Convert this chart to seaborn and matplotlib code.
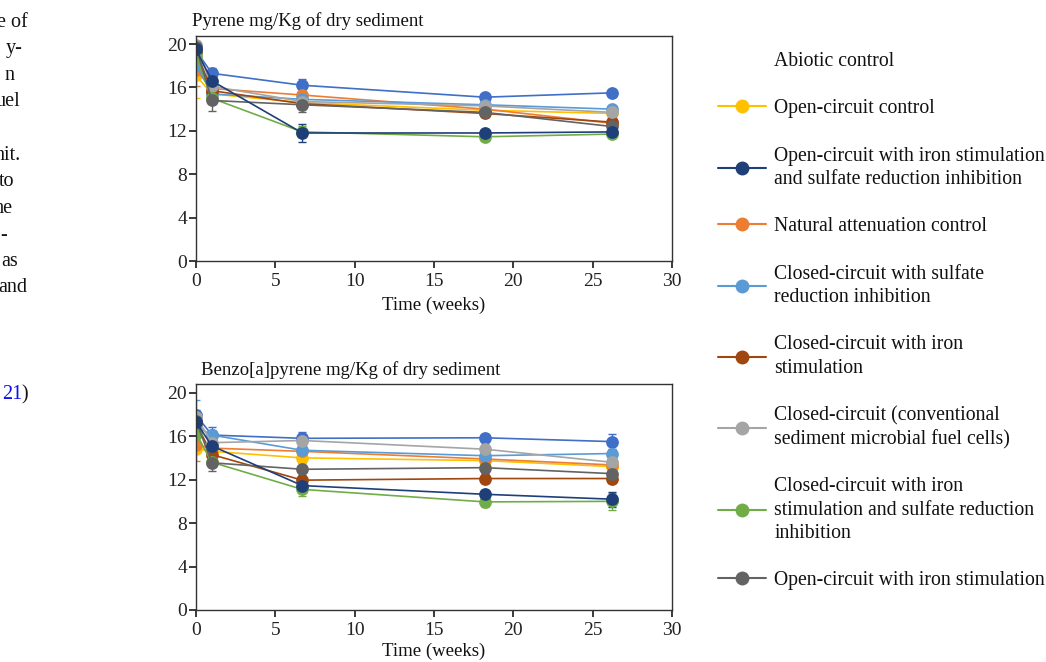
import matplotlib
matplotlib.use("Agg")
import matplotlib.pyplot as plt
from matplotlib.lines import Line2D
import seaborn as sns
import pandas as pd

# ---------------- data ----------------
weeks = [0, 1, 6.7, 18.2, 26.2]

series_names = [
    "Abiotic control",
    "Open-circuit control",
    "Open-circuit with iron stimulation\nand sulfate reduction inhibition",
    "Natural attenuation control",
    "Closed-circuit with sulfate\nreduction inhibition",
    "Closed-circuit with iron\nstimulation",
    "Closed-circuit (conventional\nsediment microbial fuel cells)",
    "Closed-circuit with iron\nstimulation and sulfate reduction\ninhibition",
    "Open-circuit with iron stimulation",
]
series_colors = ["#3F6FC6", "#FFC000", "#1F3F78", "#ED7D31", "#5B9BD5",
                 "#A0460F", "#A5A5A5", "#70AD47", "#636363"]

# Pyrene (mg/Kg dry sediment)
pyr_abiotic = [19.4, 17.3, 16.2, 15.1, 15.5]
pyr_open_ctrl = [17.1, 15.4, 14.6, 13.9, 13.6]
pyr_open_fe_sri = [19.5, 16.6, 11.8, 11.8, 11.9]
pyr_natural = [17.6, 15.9, 15.3, 14.0, 12.7]
pyr_closed_sri = [18.1, 15.4, 14.9, 14.4, 14.0]
pyr_closed_fe = [19.3, 15.7, 14.5, 13.6, 12.8]
pyr_closed_conv = [19.9, 16.1, 14.7, 14.3, 13.7]
pyr_closed_fe_sri = [18.9, 15.0, 11.9, 11.45, 11.7]
pyr_open_fe = [19.7, 14.8, 14.4, 13.7, 12.4]

pyr_err_abiotic = [0.3, 0.5, 0.6, 0.3, 0.25]
pyr_err_open_ctrl = [2.1, 0.4, 0.4, 0.3, 0.3]
pyr_err_open_fe_sri = [0.4, 0.6, 0.85, 0.3, 0.3]
pyr_err_natural = [1.5, 0.4, 0.4, 0.3, 0.3]
pyr_err_closed_sri = [0.5, 0.4, 0.4, 0.3, 0.3]
pyr_err_closed_fe = [0.4, 0.4, 0.4, 0.3, 0.3]
pyr_err_closed_conv = [0.4, 0.4, 0.5, 0.3, 0.3]
pyr_err_closed_fe_sri = [0.4, 0.4, 0.5, 0.3, 0.3]
pyr_err_open_fe = [0.4, 1.0, 0.7, 0.35, 0.35]

# Benzo[a]pyrene (mg/Kg dry sediment)
bap_abiotic = [17.95, 16.1, 15.8, 15.85, 15.5]
bap_open_ctrl = [14.85, 14.6, 14.0, 13.75, 13.2]
bap_open_fe_sri = [17.3, 15.1, 11.45, 10.65, 10.2]
bap_natural = [15.2, 14.9, 14.6, 13.9, 13.35]
bap_closed_sri = [16.9, 16.1, 14.7, 14.2, 14.4]
bap_closed_fe = [17.2, 14.3, 11.95, 12.1, 12.1]
bap_closed_conv = [17.8, 15.4, 15.6, 14.8, 13.6]
bap_closed_fe_sri = [16.2, 13.6, 11.1, 9.95, 10.0]
bap_open_fe = [17.4, 13.55, 12.95, 13.1, 12.55]

bap_err_abiotic = [0.5, 0.7, 0.55, 0.35, 0.7]
bap_err_open_ctrl = [0.4, 0.4, 0.4, 0.3, 0.35]
bap_err_open_fe_sri = [0.5, 0.5, 0.6, 0.35, 0.7]
bap_err_natural = [1.5, 0.4, 0.4, 0.3, 0.3]
bap_err_closed_sri = [2.4, 0.5, 0.5, 0.4, 0.4]
bap_err_closed_fe = [0.5, 0.4, 0.45, 0.4, 0.45]
bap_err_closed_conv = [0.6, 0.4, 0.6, 0.5, 0.4]
bap_err_closed_fe_sri = [0.5, 0.4, 0.65, 0.45, 0.8]
bap_err_open_fe = [0.5, 0.8, 0.6, 0.5, 0.5]

pyr_values = [pyr_abiotic, pyr_open_ctrl, pyr_open_fe_sri, pyr_natural, pyr_closed_sri,
              pyr_closed_fe, pyr_closed_conv, pyr_closed_fe_sri, pyr_open_fe]
pyr_errors = [pyr_err_abiotic, pyr_err_open_ctrl, pyr_err_open_fe_sri, pyr_err_natural,
              pyr_err_closed_sri, pyr_err_closed_fe, pyr_err_closed_conv,
              pyr_err_closed_fe_sri, pyr_err_open_fe]
bap_values = [bap_abiotic, bap_open_ctrl, bap_open_fe_sri, bap_natural, bap_closed_sri,
              bap_closed_fe, bap_closed_conv, bap_closed_fe_sri, bap_open_fe]
bap_errors = [bap_err_abiotic, bap_err_open_ctrl, bap_err_open_fe_sri, bap_err_natural,
              bap_err_closed_sri, bap_err_closed_fe, bap_err_closed_conv,
              bap_err_closed_fe_sri, bap_err_open_fe]

titles = ["Pyrene mg/Kg of dry sediment", "Benzo[a]pyrene mg/Kg of dry sediment"]
x_label = "Time (weeks)"
x_ticks = [0, 5, 10, 15, 20, 25, 30]
y_ticks = [0, 4, 8, 12, 16, 20]

side_lines = ["e of", "y-", "n", "uel", "nit.", "to", "he", "-", "as", "and"]

# ---------------- style ----------------
sns.set_theme(style="ticks")
plt.rcParams["font.family"] = ["Liberation Serif", "DejaVu Serif"]
plt.rcParams["axes.edgecolor"] = "#333333"
plt.rcParams["axes.linewidth"] = 1.0

W, H = 1046, 662
fig = plt.figure(figsize=(W / 100, H / 100), dpi=100)
fig.patch.set_facecolor("white")


def fx(px):
    return px / W


def fy(py):
    return 1 - py / H


ax_top = fig.add_axes([fx(196), fy(261), fx(672) - fx(196), fy(36) - fy(261)])
ax_bot = fig.add_axes([fx(196), fy(610), fx(672) - fx(196), fy(384) - fy(610)])

# draw order: navy last so it sits on top
draw_order = [0, 1, 3, 4, 5, 6, 7, 8, 2]
palette = {series_names[i]: series_colors[i] for i in range(len(series_names))}
hue_order = [series_names[i] for i in draw_order]


def draw_panel(ax, values, errors, ylim_top, lpad):
    rows = []
    for name, vals in zip(series_names, values):
        for w, v in zip(weeks, vals):
            rows.append({"week": w, "value": v, "series": name})
    df = pd.DataFrame(rows)
    for i in draw_order:
        ax.errorbar(weeks, values[i], yerr=errors[i], fmt="none",
                    ecolor=series_colors[i], elinewidth=1.0, capsize=3,
                    capthick=1.0, zorder=1.5)
    sns.lineplot(data=df, x="week", y="value", hue="series", hue_order=hue_order,
                 palette=palette, marker="o", markersize=9.2, markeredgewidth=0,
                 linewidth=1.2, errorbar=None, legend=False, ax=ax, zorder=2,
                 sort=True)
    ax.set_xlim(0, 30)
    ax.set_ylim(0, ylim_top)
    ax.set_xticks(x_ticks)
    ax.set_yticks(y_ticks)
    ax.set_xlabel(x_label, fontsize=13.5, labelpad=lpad, color="#111111")
    ax.set_ylabel("")
    ax.tick_params(axis="both", labelsize=14, colors="#222222", direction="out")
    ax.tick_params(axis="y", length=5, pad=1.5)
    ax.tick_params(axis="x", length=5, pad=3.5)
    for s in ax.spines.values():
        s.set_visible(True)
        s.set_color("#333333")
        s.set_linewidth(1.0)
    ax.set_facecolor("white")


draw_panel(ax_top, pyr_values, pyr_errors, 20.74, 5)
draw_panel(ax_bot, bap_values, bap_errors, 20.8, 2.5)

fig.text(fx(192), fy(26), titles[0], fontsize=13.5, ha="left", va="baseline",
         color="#111111")
fig.text(fx(201), fy(375), titles[1], fontsize=13.5, ha="left", va="baseline",
         color="#111111")

# legend
handles = [Line2D([0], [0], color="none", marker=None)]
for c in series_colors[1:]:
    handles.append(Line2D([0], [0], color=c, marker="o", markersize=10,
                          markeredgewidth=0, linewidth=1.5))
leg = fig.legend(handles, series_names, loc="upper left",
                 bbox_to_anchor=(fx(718), fy(52)), frameon=False, borderpad=0,
                 borderaxespad=0, handlelength=2.45, handletextpad=0.4,
                 labelspacing=1.44, prop={"family": "Liberation Serif", "size": 14.2},
                 labelcolor="#111111")
for t in leg.get_texts():
    t.set_linespacing(1.3)

# cut-off page text at the left edge
side_right = [27.5, 23, 14, 20, 21, 14, 13, 7, 18, 27]
side_base = [27, 53.5, 80, 106.5, 160, 186.5, 213, 239.5, 266, 292.5]
for s, xr, yb in zip(side_lines, side_right, side_base):
    fig.text(fx(xr), fy(yb), s, fontsize=14.5, ha="right", va="baseline",
             color="#111111")
fig.text(fx(28.5), fy(399), ")", fontsize=14.5, ha="right", va="baseline",
         color="#111111")
fig.text(fx(22), fy(399), "21", fontsize=14.5, ha="right", va="baseline",
         color="#1010EE")

fig.savefig("out.png", dpi=100, facecolor="white")
